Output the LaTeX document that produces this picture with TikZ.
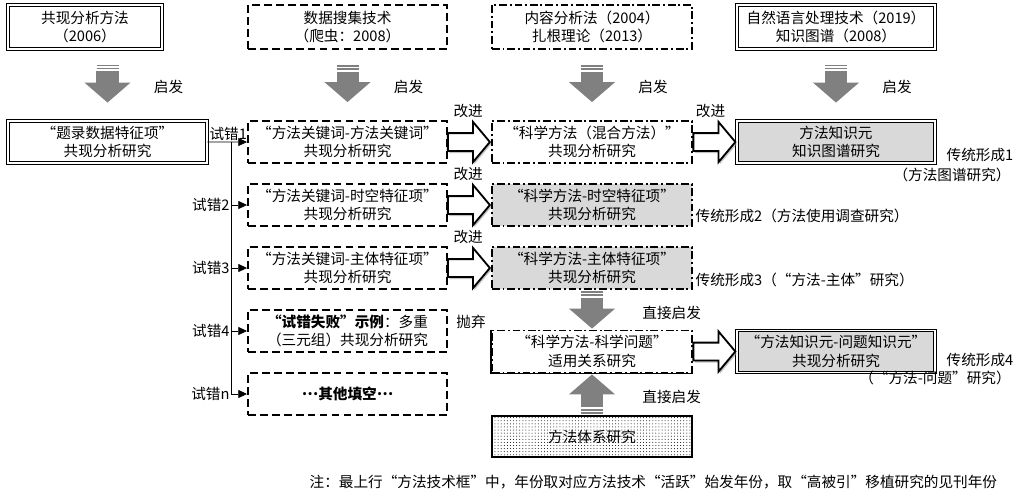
\documentclass[tikz,border=0pt]{standalone}
\usepackage{fontspec}
\setmainfont{Noto Sans CJK SC}
\usetikzlibrary{arrows.meta, calc, positioning, shapes.arrows, shadows, patterns.meta}

\tikzstyle{base} = [rectangle, inner sep=1pt, align=center, font=\fontsize{10.4}{13}\selectfont]
\tikzstyle{techbox} = [base, draw=black, double, double distance=1.3pt, line width=0.6pt]
\tikzstyle{trialbox} = [base, draw=black, line width=1.3pt, dash pattern=on 5.5pt off 3pt, minimum width=4.975cm, minimum height=1.05cm]
\tikzstyle{mixbox} = [base, draw=black, line width=1.3pt, dash pattern=on 5.5pt off 2pt on 1.4pt off 2pt, minimum width=5cm, minimum height=1.05cm]
\tikzstyle{formbox} = [techbox, fill=black!15, minimum width=4.95cm, minimum height=1.05cm]
\tikzstyle{sysbox} = [base, draw=black, line width=1.4pt, pattern={Dots[distance=2.2pt,radius=0.35pt]}, minimum width=5cm, minimum height=1.025cm]
\tikzstyle{inspire} = [line width=0.55cm, draw=black!50, -{Triangle[width=1.125cm,length=0.5cm]}]
\tikzstyle{improve} = [single arrow, draw=black, fill=white, line width=1.3pt, inner xsep=0pt, inner ysep=0.2cm, minimum height=1.05cm, single arrow head extend=0.28cm, single arrow tip angle=100, drop shadow={shadow xshift=1pt, shadow yshift=-1.5pt, fill=black!40, opacity=0.6}]
\tikzstyle{trial} = [semithick, -{Triangle[length=0.22cm,width=0.2cm]}]
\tikzstyle{lbl} = [font=\fontsize{10.4}{13}\selectfont, inner sep=1pt]

% stripes at the tail of a grey arrow
\newcommand{\tailstripes}[2]{%
  \foreach \d in {3,6}
    {\draw[black!50, line width=0.04cm] ($(#1)+(-11,#2*\d)$) -- ($(#1)+(11,#2*\d)$);}}
\newcommand{\middots}{\raisebox{0.3em}{…}}

\begin{document}
\begin{tikzpicture}[x=0.025cm, y=-0.025cm]
\fill[white] (0,0) rectangle (1025,495);
\useasboundingbox (0,0) rectangle (1025,495);

% top row: method techniques
\node (tech1) [techbox, minimum width=3.85cm, minimum height=1.1cm] at (85,27) {共现分析方法\\（2006）};
\node (tech2) [trialbox, minimum height=1.1cm] at (347.5,27) {数据搜集技术\\（爬虫：2008）};
\node (tech3) [mixbox, minimum height=1.1cm] at (592,27) {内容分析法（2004）\\扎根理论（2013）};
\node (tech4) [techbox, minimum width=4.95cm, minimum height=1.1cm] at (836,27) {自然语言处理技术（2019）\\知识图谱（2008）};

% second row
\node (co1) [techbox, minimum width=4.975cm, minimum height=1.05cm] at (107.5,142) {“题录数据特征项”\\共现分析研究};
\node (kw1) [trialbox] at (347.5,142) {“方法关键词-方法关键词”\\共现分析研究};
\node (sm1) [mixbox] at (592,142) {“科学方法（混合方法）”\\共现分析研究};
\node (kg1) [formbox] at (836,142) {方法知识元\\知识图谱研究};

% trial rows
\node (kw2) [trialbox] at (347.5,205) {“方法关键词-时空特征项”\\共现分析研究};
\node (sm2) [mixbox, fill=black!15] at (592,205) {“科学方法-时空特征项”\\共现分析研究};
\node (kw3) [trialbox] at (347.5,268) {“方法关键词-主体特征项”\\共现分析研究};
\node (sm3) [mixbox, fill=black!15] at (592,268) {“科学方法-主体特征项”\\共现分析研究};
\node (fail) [trialbox] at (347.5,331) {\textbf{“试错失败”示例}：多重\\（三元组）共现分析研究};
\node (other) [trialbox] at (347.5,394) {\textbf{\middots 其他填空\middots}};

\node (smq) [mixbox] at (592,351.5) {“科学方法-科学问题”\\适用关系研究};
\draw[line width=1.3pt] (smq.north west) -- (smq.south west) -- (smq.south east);
\node (kg2) [formbox] at (836,351.5) {“方法知识元-问题知识元”\\共现分析研究};
\node (sys) [sysbox] at (592,436.5) {方法体系研究};

% inspiration arrows
\coordinate (s1) at ($(tech1.south -| co1)+(0,22)$);
\coordinate (s2) at ($(tech2.south)+(0,22)$);
\coordinate (s3) at ($(tech3.south)+(0,22)$);
\coordinate (s4) at ($(tech4.south)+(0,22)$);
\draw[inspire] (s1) -- ($(co1.north)+(0,-18)$) node[lbl, midway, right=0.85cm] {启发};
\draw[inspire] (s2) -- ($(kw1.north)+(0,-18)$) node[lbl, midway, right=0.85cm] {启发};
\draw[inspire] (s3) -- ($(sm1.north)+(0,-18)$) node[lbl, midway, right=0.85cm] {启发};
\draw[inspire] (s4) -- ($(kg1.north)+(0,-18)$) node[lbl, midway, right=0.85cm] {启发};
\foreach \s in {s1,s2,s3,s4} {\tailstripes{\s}{-1}}

\coordinate (s5) at ($(sm3.south)+(0,8)$);
\draw[inspire] (s5) -- ($(smq.north)+(0,-1)$) node[lbl, midway, right=0.95cm] {直接启发};
\tailstripes{s5}{-1}
\coordinate (s6) at ($(sys.north)+(0,-8)$);
\draw[inspire] (s6) -- ($(smq.south)+(0,1)$) node[lbl, midway, right=0.95cm, yshift=-0.15cm] {直接启发};
\tailstripes{s6}{1}

% improvement arrows
\node (i1) [improve, anchor=tip] at (sm1.west) {};
\node (i2) [improve, anchor=tip] at (kg1.west) {};
\node (i3) [improve, anchor=tip] at (sm2.west) {};
\node (i4) [improve, anchor=tip] at (sm3.west) {};
\node (i5) [improve, anchor=tip] at (kg2.west) {};
\node[lbl] at ($(i1)+(3,-31)$) {改进};
\node[lbl] at ($(i2)+(0,-31)$) {改进};
\node[lbl] at ($(i3)+(3,-31)$) {改进};
\node[lbl] at ($(i4)+(3,-31)$) {改进};
\node[lbl] at (471,322) {抛弃};

% trial and error branches
\coordinate (trunk) at ($(co1.east)!0.6!(kw1.west)$);
\draw[semithick] (co1) -- (trunk);
\draw[trial] (trunk) -- (kw1);
\draw[semithick] (trunk) -- (trunk |- other);
\foreach \n in {kw2,kw3,fail,other} {\draw[trial] (trunk |- \n) -- (\n);}
\node[lbl, anchor=south] at ($(trunk)+(-3,0)$) {试错1};
\node[lbl, left=0pt] at (trunk |- kw2) {试错2};
\node[lbl, left=0pt] at (trunk |- kw3) {试错3};
\node[lbl, left=0pt] at (trunk |- fail) {试错4};
\node[lbl, left=0pt] at (trunk |- other) {试错n};

% traditional forms
\node[lbl] at (980,155) {传统形成1};
\node[lbl] at (952,175) {（方法图谱研究）};
\node[lbl, anchor=west] at (694,216) {传统形成2（方法使用调查研究）};
\node[lbl, anchor=west] at (694,280) {传统形成3（“方法-主体”研究）};
\node[lbl] at (980,360) {传统形成4};
\node[lbl] at (935,378) {（“方法-问题”研究）};

% note
\node[lbl, anchor=west] at (308,482) {注：最上行“方法技术框”中，年份取对应方法技术“活跃”始发年份，取“高被引”移植研究的见刊年份};
\end{tikzpicture}
\end{document}
